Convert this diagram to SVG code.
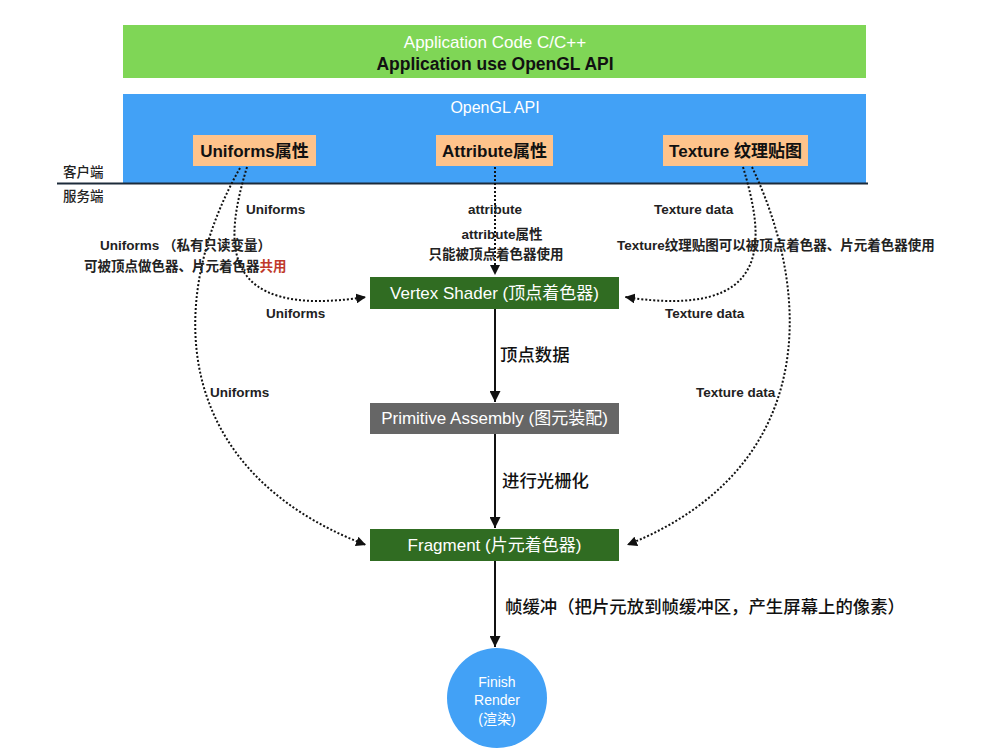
<svg xmlns="http://www.w3.org/2000/svg" width="1000" height="750" viewBox="0 0 1000 750">
<style>
text{font-family:"Liberation Sans","Noto Sans CJK SC",sans-serif;}
.w{fill:#fff;font-size:17px;}
.bk{fill:#111;font-size:17.5px;font-weight:bold;}
.ob{fill:#111;font-size:17px;font-weight:bold;}
.lb{fill:#222;font-size:13.5px;font-weight:bold;}
.cn{fill:#222;font-size:13.5px;font-weight:500;}
.big{fill:#111;font-size:17.4px;font-weight:500;}
.dot{fill:none;stroke:#111;stroke-width:2;stroke-dasharray:2 2;}
.sol{fill:none;stroke:#111;stroke-width:2;}
</style>
<defs>
<marker id="ah" markerUnits="userSpaceOnUse" viewBox="0 0 10 10" refX="10" refY="5" markerWidth="10" markerHeight="10" orient="auto"><path d="M0,0 L10,5 L0,10 z" fill="#111"/></marker>
<marker id="ahs" markerUnits="userSpaceOnUse" viewBox="0 0 10 10" refX="10" refY="5" markerWidth="11" markerHeight="11" orient="auto"><path d="M0,0 L10,5 L0,10 z" fill="#111"/></marker>
</defs>
<rect width="1000" height="750" fill="#fff"/>
<g id="app">
<rect x="123" y="25" width="743" height="53" fill="#7fd656"/>
<text x="495" y="48" text-anchor="middle" class="w">Application Code C/C++</text>
<text x="495" y="70" text-anchor="middle" class="bk">Application use OpenGL API</text>
</g>
<g id="opengl">
<rect x="123" y="94" width="743" height="89" fill="#42a1f6"/>
<text x="495" y="113" text-anchor="middle" class="w" style="font-size:16px">OpenGL API</text>
</g>
<g id="divider">
<line x1="57" y1="183.5" x2="868" y2="183.5" stroke="#1c2b3a" stroke-width="2"/>
<text x="63" y="177" class="cn">客户端</text>
<text x="63" y="201" class="cn">服务端</text>
</g>
<g id="uniforms">
<rect x="193" y="135" width="123" height="31" fill="#fec38b"/>
<text x="254.5" y="157" text-anchor="middle" class="ob">Uniforms属性</text>
</g>
<g id="attribute">
<rect x="436" y="135" width="117" height="31" fill="#fec38b"/>
<text x="494.5" y="157" text-anchor="middle" class="ob">Attribute属性</text>
</g>
<g id="texture">
<rect x="663" y="135" width="145" height="31" fill="#fec38b"/>
<text x="735.5" y="157" text-anchor="middle" class="ob">Texture 纹理贴图</text>
</g>
<g id="vertex">
<rect x="370" y="277" width="249" height="32" fill="#306c22"/>
<text x="494.5" y="299" text-anchor="middle" class="w">Vertex Shader (顶点着色器)</text>
</g>
<g id="primitive">
<rect x="370" y="403" width="249" height="31" fill="#666666"/>
<text x="494.5" y="424" text-anchor="middle" class="w">Primitive Assembly (图元装配)</text>
</g>
<g id="fragment">
<rect x="370" y="529" width="249" height="32" fill="#306c22"/>
<text x="494.5" y="551" text-anchor="middle" class="w">Fragment (片元着色器)</text>
</g>
<g id="finish">
<circle cx="497" cy="698" r="50" fill="#42a1f6"/>
<text x="497" y="687" text-anchor="middle" class="w" style="font-size:14px">Finish</text>
<text x="497" y="705" text-anchor="middle" class="w" style="font-size:14px">Render</text>
<text x="497" y="724" text-anchor="middle" class="w" style="font-size:14px">(渲染)</text>
</g>
<g id="connectors">
<path class="dot" d="M495,167 L495,275" marker-end="url(#ah)"/>
<path class="dot" d="M247,167 C225,240 215,320 366,297" marker-end="url(#ah)"/>
<path class="dot" d="M240,168 C165,300 170,470 366,545" marker-end="url(#ah)"/>
<path class="dot" d="M743,167 C765,240 775,320 625,297" marker-end="url(#ah)"/>
<path class="dot" d="M752,167 C815,300 815,470 627,545" marker-end="url(#ah)"/>
<path class="sol" d="M495,309 L495,402" marker-end="url(#ahs)"/>
<path class="sol" d="M495,434 L495,528" marker-end="url(#ahs)"/>
<path class="sol" d="M495,561 L495,647" marker-end="url(#ahs)"/>
</g>
<g id="labels">
<text x="246" y="214" class="lb">Uniforms</text>
<text x="100" y="250" class="lb">Uniforms （私有只读变量）</text>
<text x="84" y="271" class="lb">可被顶点做色器、片元着色器<tspan fill="#c0392b">共用</tspan></text>
<text x="266" y="318" class="lb">Uniforms</text>
<text x="210" y="397" class="lb">Uniforms</text>
<text x="495" y="214" text-anchor="middle" class="lb">attribute</text>
<text x="502" y="239" text-anchor="middle" class="lb">attribute属性</text>
<text x="496" y="259" text-anchor="middle" class="lb">只能被顶点着色器使用</text>
<text x="654" y="214" class="lb">Texture data</text>
<text x="617" y="250" class="lb">Texture纹理贴图可以被顶点着色器、片元着色器使用</text>
<text x="665" y="318" class="lb">Texture data</text>
<text x="696" y="397" class="lb">Texture data</text>
<text x="500" y="361" class="big">顶点数据</text>
<text x="502" y="487" class="big">进行光栅化</text>
<text x="505" y="613" class="big">帧缓冲（把片元放到帧缓冲区，产生屏幕上的像素）</text>
</g>
</svg>
